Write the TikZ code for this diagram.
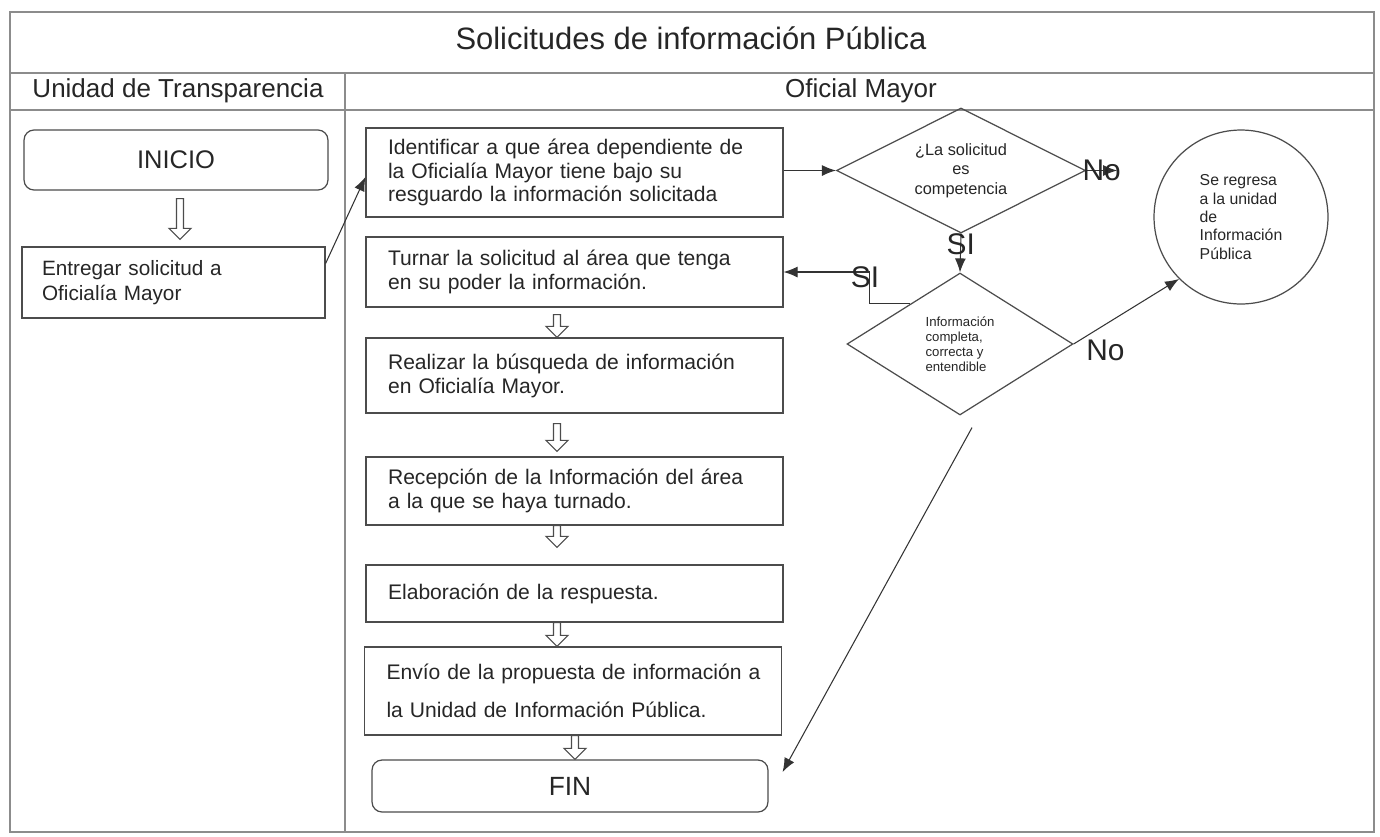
\documentclass[tikz,border=0pt]{standalone}
\usepackage{fontspec}
\setmainfont{Liberation Sans}
\usetikzlibrary{calc,arrows.meta,shapes.geometric}
\def\fsz#1#2{\fontsize{#1}{#2}\selectfont}
% hollow block arrow between two stacked nodes: upper, lower, x offset, top gap, bottom gap
\newcommand\openarrow[5]{%
	\coordinate (oa-s) at ($(#1.south)+(#3,#4)$);
	\coordinate (oa-e) at ($(#1.south |- #2.north)+(#3,-#5)$);
	\draw[hollow] ($(oa-s)+(-3.5,0)$) -- ($(oa-e)+(-3.5,-11)$) -- ($(oa-e)+(-11,-11)$) -- (oa-e) -- ($(oa-e)+(11,-11)$) -- ($(oa-e)+(3.5,-11)$) -- ($(oa-s)+(3.5,0)$) -- cycle;}

\tikzset{
	frame/.style={draw=black!45, line width=0.6pt},
	box/.style={draw=black!70, line width=0.7pt, inner sep=0pt, align=left, text=black!85, font=\fsz{12}{13.6}, minimum width=8.34cm, text width=7.46cm},
	startend/.style={draw=black!70, line width=0.7pt, rounded corners=0.2cm, inner sep=0pt, text=black!85},
	decision/.style={draw=black!70, line width=0.7pt, diamond, aspect=2, inner sep=0pt, text=black!85},
	hollow/.style={draw=black!70, line width=0.6pt, fill=white},
	conn/.style={draw=black!80, line width=0.6pt, -{Latex[length=0.28cm, width=0.22cm]}},
	lbl/.style={text=black!85, font=\fsz{17}{20}, inner sep=1pt}
}

\begin{document}
\begin{tikzpicture}[x=0.02cm, y=-0.02cm]
			%%%%% START %%%%%
			\useasboundingbox (0,0) rectangle (1380,836);
			
			\draw[frame] (10,12) rectangle (1374,832);
			\draw[frame] (10,73) -- (1374,73);
			\draw[frame] (10,110) -- (1374,110);
			\draw[frame] (345,73) -- (345,832);
			
			\node[text=black!85, font=\fsz{17.6}{20}] (titulo) at (691,38) {Solicitudes de información Pública};
			\node[text=black!85, font=\fsz{14.8}{17}] (unidad) at (178,91) {Unidad de Transparencia};
			\node[text=black!85, font=\fsz{14.8}{17}] (oficial) at (861,91) {Oficial Mayor};
			
			% Unidad de Transparencia
			\node[startend, minimum width=6.08cm, minimum height=1.2cm, font=\fsz{14.5}{16}] (inicio) at (176,160) {INICIO};
			\node[box, minimum width=6.06cm, text width=5.26cm, minimum height=1.42cm, font=\fsz{11.8}{14}] (entregar) at (173.5,282.5) {Entregar solicitud a\\Oficialía Mayor};
			\openarrow{inicio}{entregar}{4}{8}{7}
			
			% Oficial Mayor
			\node[box, minimum height=1.78cm] (identificar) at (574.5,172.5) {Identificar a que área dependiente de\\la Oficialía Mayor tiene bajo su\\resguardo la información solicitada};
			\node[box, minimum height=1.4cm] (turnar) at (574.5,272) {Turnar la solicitud al área que tenga\\en su poder la información.};
			\node[box, minimum height=1.5cm] (realizar) at (574.5,375.5) {Realizar la búsqueda de información\\en Oficialía Mayor.};
			\node[box, minimum height=1.36cm] (recepcion) at (574.5,491) {Recepción de la Información del área\\a la que se haya turnado.};
			\node[box, minimum height=1.14cm] (elaboracion) at (574.5,593.5) {Elaboración de la respuesta.};
			\node[box, minimum height=1.76cm] (envio) at (573,691) {\mbox{Envío de la propuesta de información a}\\[7.9pt]la Unidad de Información Pública.};
			\node[startend, minimum width=7.92cm, minimum height=1.04cm, font=\fsz{15}{17}] (fin) at (570,786) {FIN};
			
			\openarrow{turnar}{realizar}{-17.5}{7}{0}
			\openarrow{realizar}{recepcion}{-17.5}{10}{5}
			\openarrow{recepcion}{elaboracion}{-17.5}{0}{17}
			\openarrow{elaboracion}{envio}{-17.5}{0}{0}
			\openarrow{envio}{fin}{2}{0}{0}
			
			\node[decision, minimum width=4.98cm, minimum height=2.5cm, font=\fsz{9.3}{11}, align=center] (competencia) at (961,170.5) {¿La solicitud\\es\\competencia};
			\node[decision, minimum width=4.52cm, minimum height=2.84cm, font=\fsz{7.5}{8.6}, align=left] (datos) at (960,344) {Información\\completa,\\correcta y\\entendible};
			\node[draw=black!70, line width=0.7pt, circle, minimum size=3.48cm, inner sep=0pt, align=left, text=black!85, font=\fsz{9}{10.5}] (regresa) at (1241,217) {Se regresa\\a la unidad\\de\\Información\\Pública};
			\coordinate (noend) at ($(competencia.east)+(31,0)$);
			
			\draw[conn] ($(entregar.east)+(0,-19)$) -- ($(identificar.west)+(0,4.5)$);
			\draw[conn] (identificar.east |- competencia.west) -- (competencia.west);
			\draw[conn] (competencia.east) -- (noend) node[midway, lbl]{No};
			\draw[conn] (competencia.south) -- (datos.north) node[pos=0.28, lbl]{SI};
			\draw[conn] ($(datos.north)!0.44!(datos.west)$) -- ++(-41,0) |- (turnar.east) node[pos=0.5, lbl, xshift=-4*0.02cm, yshift=-5*0.02cm]{SI};
			\draw[conn] (datos.east) -- (regresa.south west) node[pos=0.1, below right, lbl]{No};
			\draw[conn] ($(datos.south)+(12,12)$) -- ($(fin.east)+(14,-14)$);
			
			%%%%% END %%%%%
\end{tikzpicture}
\end{document}
